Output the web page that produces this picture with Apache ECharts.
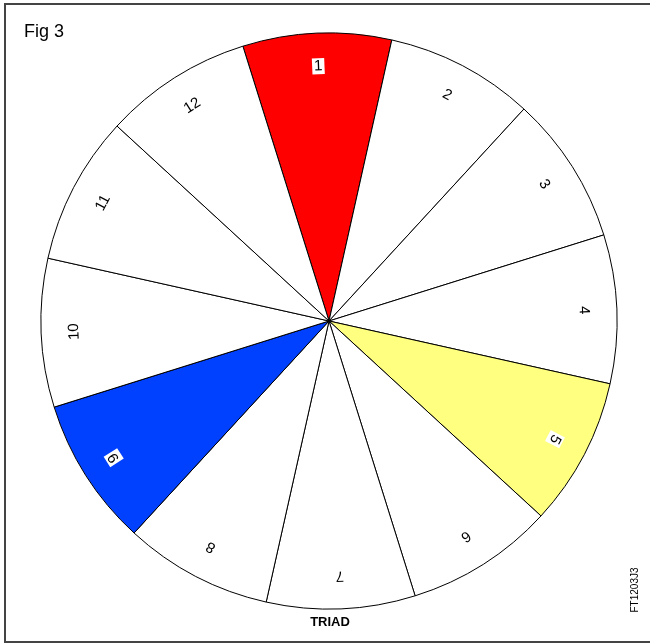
<!DOCTYPE html>
<html>
<head>
<meta charset="utf-8">
<script src="https://cdn.jsdelivr.net/npm/echarts@6/dist/echarts.min.js"></script>
<style>html,body{margin:0;padding:0;background:#fff}#c{width:650px;height:643px}</style>
</head>
<body>
<div id="c"></div>
<script>
var categories = ['1','2','3','4','5','6','7','8','9','10','11','12'];
var values = [1,1,1,1,1,1,1,1,1,1,1,1];
var highlighted = {'1':'#ff0000','5':'#ffff80','9':'#0040ff'};
var title = 'Fig 3';
var caption = 'TRIAD';
var code = 'FT1203J3';

var startAngle = 107.4;
var step = 360 / categories.length;

var sliceData = categories.map(function(c, i){
  return {name: c, value: values[i], itemStyle: {color: highlighted[c] || '#ffffff'}};
});
var labelData = categories.map(function(c, i){
  var mid = (90 - startAngle) + step * (i + 0.5); // clockwise from top
  var boxed = !!highlighted[c];
  return {name: c, value: values[i], label: {
    rotate: -mid,
    backgroundColor: boxed ? '#ffffff' : 'transparent',
    padding: boxed ? [1, 2, 0, 2] : 0
  }};
});

var chart = echarts.init(document.getElementById('c'), null, {renderer: 'canvas'});
chart.setOption({
  animation: false,
  series: [
    {
      type: 'pie',
      center: [329, 321],
      radius: [0, 288],
      startAngle: startAngle,
      clockwise: true,
      silent: true,
      label: {show: false},
      labelLine: {show: false},
      itemStyle: {borderColor: '#000', borderWidth: 1},
      data: sliceData
    },
    {
      type: 'pie',
      center: [329, 321],
      radius: [216, 288],
      startAngle: startAngle,
      clockwise: true,
      silent: true,
      itemStyle: {color: 'transparent', borderWidth: 0},
      label: {show: true, position: 'inside', color: '#000', fontFamily: 'Liberation Sans, Arial, sans-serif', fontSize: 15, formatter: '{b}'},
      labelLine: {show: false},
      data: labelData
    }
  ],
  graphic: [
    {type: 'rect', shape: {x: 5, y: 4, width: 700, height: 638}, style: {fill: 'none', stroke: '#444', lineWidth: 2}, silent: true},
    {type: 'text', left: 24, top: 23, style: {text: title, fontFamily: 'Liberation Sans, Arial, sans-serif', fontSize: 18, fill: '#000'}},
    {type: 'text', x: 330, y: 622, style: {text: caption, fontFamily: 'Liberation Sans, Arial, sans-serif', fontSize: 13, fontWeight: 'bold', fill: '#000', align: 'center', verticalAlign: 'middle'}},
    {type: 'text', x: 635, y: 590, rotation: Math.PI / 2, style: {text: code, fontFamily: 'Liberation Sans, Arial, sans-serif', fontSize: 10, fill: '#000', align: 'center', verticalAlign: 'middle'}}
  ]
});
</script>
</body>
</html>
